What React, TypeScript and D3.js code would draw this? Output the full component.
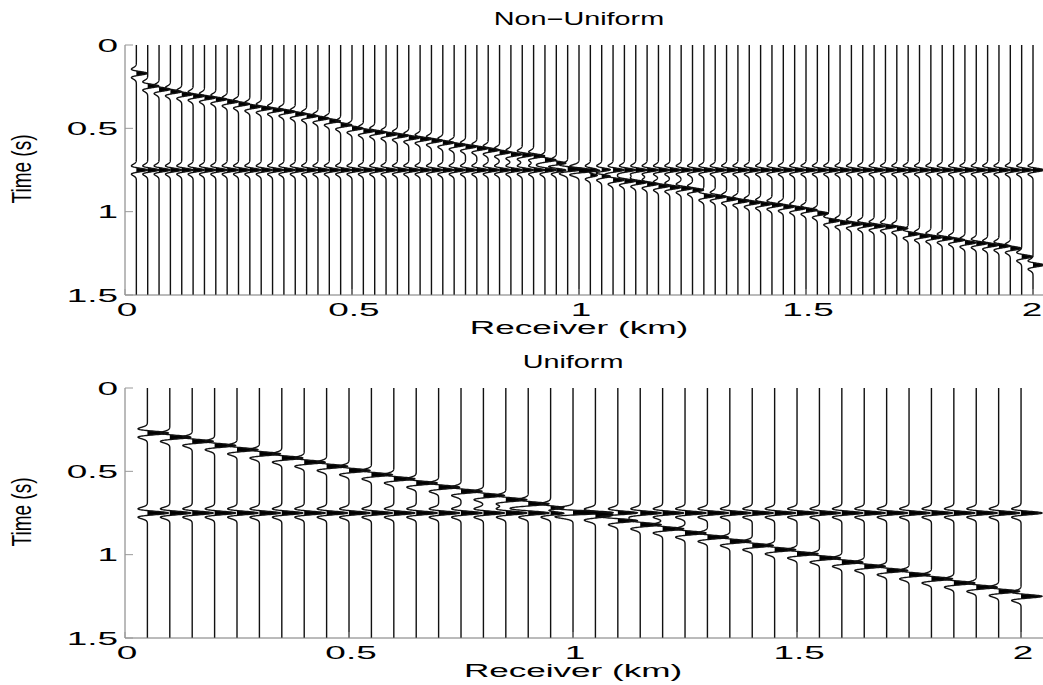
import * as d3 from 'd3';

// receiver positions (km) and event arrival times (s)
const topReceivers = [
  0.025, 0.05, 0.075, 0.1, 0.125, 0.15, 0.175, 0.2, 0.225, 0.25,
  0.275, 0.3, 0.325, 0.35, 0.375, 0.4, 0.425, 0.45, 0.475, 0.5,
  0.525, 0.55, 0.575, 0.6, 0.625, 0.65, 0.675, 0.7, 0.725, 0.75,
  0.775, 0.8, 0.825, 0.85, 0.875, 0.9, 0.925, 0.95, 0.975, 1.0,
  1.025, 1.05, 1.075, 1.1, 1.125, 1.15, 1.175, 1.2, 1.225, 1.25,
  1.275, 1.3, 1.325, 1.35, 1.375, 1.4, 1.425, 1.45, 1.475, 1.5,
  1.525, 1.55, 1.575, 1.6, 1.625, 1.65, 1.675, 1.7, 1.725, 1.75,
  1.775, 1.8, 1.825, 1.85, 1.875, 1.9, 1.925, 1.95, 1.975, 2.0,
];
const topDipTimes = [
  0.17, 0.246, 0.266, 0.28, 0.296, 0.306, 0.316, 0.326, 0.34, 0.354,
  0.37, 0.38, 0.39, 0.4, 0.414, 0.426, 0.44, 0.456, 0.48, 0.5,
  0.516, 0.524, 0.536, 0.544, 0.556, 0.564, 0.574, 0.586, 0.6, 0.61,
  0.62, 0.63, 0.644, 0.656, 0.66, 0.666, 0.69, 0.71, 0.74, 0.756,
  0.78, 0.786, 0.81, 0.816, 0.824, 0.834, 0.846, 0.854, 0.86, 0.87,
  0.906, 0.91, 0.924, 0.936, 0.946, 0.954, 0.96, 0.97, 0.98, 0.99,
  1.01, 1.054, 1.066, 1.074, 1.08, 1.086, 1.09, 1.1, 1.134, 1.146,
  1.154, 1.16, 1.17, 1.186, 1.19, 1.2, 1.206, 1.22, 1.27, 1.32,
];

const bottomReceivers = [
  0.05, 0.1, 0.15, 0.2, 0.25, 0.3, 0.35, 0.4, 0.45, 0.5,
  0.55, 0.6, 0.65, 0.7, 0.75, 0.8, 0.85, 0.9, 0.95, 1.0,
  1.05, 1.1, 1.15, 1.2, 1.25, 1.3, 1.35, 1.4, 1.45, 1.5,
  1.55, 1.6, 1.65, 1.7, 1.75, 1.8, 1.85, 1.9, 1.95, 2.0,
];
const bottomDipTimes = [
  0.27, 0.295, 0.32, 0.345, 0.37, 0.395, 0.42, 0.445, 0.47, 0.495,
  0.52, 0.545, 0.57, 0.595, 0.62, 0.645, 0.67, 0.695, 0.72, 0.745,
  0.77, 0.795, 0.82, 0.845, 0.87, 0.895, 0.92, 0.945, 0.97, 0.995,
  1.02, 1.045, 1.07, 1.095, 1.12, 1.145, 1.17, 1.195, 1.22, 1.25,
];

const flatTime = 0.75;
const xTicks = [0, 0.5, 1, 1.5, 2];
const yTicks = [0, 0.5, 1, 1.5];

const FREQ = 15.5;
const DT = 0.001;
const FONT = '"Liberation Sans", Arial, Helvetica, sans-serif';
const SX = 2.05; // glyphs in the source are stretched horizontally

function ricker(t: number) {
  const a = Math.PI * Math.PI * FREQ * FREQ * t * t;
  return (1 - 2 * a) * Math.exp(-a);
}

type Sample = { t: number; s: number };

function Panel({
  title,
  receivers,
  dips,
  top,
  xMax,
  gain,
}: {
  title: string;
  receivers: number[];
  dips: number[];
  top: number;
  xMax: number;
  gain: number;
}) {
  const x = d3.scaleLinear().domain([0, xMax]).range([125, 1043]);
  const y = d3.scaleLinear().domain([0, 1.5]).range([top, top + 250]);
  const bottom = top + 250;

  const times = d3.range(0, 1.5 + DT / 2, DT);

  const traces = receivers.map((r, i) => {
    const xc = x(r);
    const samples: Sample[] = times.map((t) => ({
      t,
      s: ricker(t - dips[i]) + ricker(t - flatTime),
    }));
    const line = d3
      .line<Sample>()
      .x((d) => xc + gain * d.s)
      .y((d) => y(d.t));
    const area = d3
      .area<Sample>()
      .y((d) => y(d.t))
      .x0(() => xc)
      .x1((d) => xc + gain * Math.max(0, d.s));
    return { key: i, line: line(samples) || '', area: area(samples) || '' };
  });

  return (
    <g>
      <text
        transform={`translate(${x(1)},${top - 20}) scale(1.6,1)`}
        textAnchor="middle"
        fontFamily={FONT}
        fontSize={18}
      >
        {title}
      </text>

      {traces.map((tr) => (
        <g key={tr.key}>
          <path d={tr.area} fill="#000" stroke="none" />
          <path d={tr.line} fill="none" stroke="#111" strokeWidth={1.4} />
        </g>
      ))}

      {/* axes */}
      <line x1={125} x2={125} y1={top} y2={bottom} stroke="#777" strokeWidth={1} />
      <line x1={125} x2={1043} y1={bottom} y2={bottom} stroke="#777" strokeWidth={1} />
      {yTicks.map((v) => (
        <g key={`y${v}`}>
          <line x1={125} x2={133} y1={y(v)} y2={y(v)} stroke="#999" />
          <text
            transform={`translate(118,${y(v) + 6.5}) scale(${SX},1)`}
            textAnchor="end"
            fontFamily={FONT}
            fontSize={18}
          >
            {String(v)}
          </text>
        </g>
      ))}
      {xTicks.map((v) => (
        <g key={`x${v}`}>
          <line x1={x(v)} x2={x(v)} y1={bottom} y2={bottom - 6} stroke="#999" />
          <text
            transform={`translate(${Math.min(x(v) + 2, 1032)},${bottom + 21}) scale(${SX},1)`}
            textAnchor="middle"
            fontFamily={FONT}
            fontSize={18}
          >
            {String(v)}
          </text>
        </g>
      ))}
      <text
        transform={`translate(${x(1)},${bottom + 39}) scale(1.95,1)`}
        textAnchor="middle"
        fontFamily={FONT}
        fontSize={18}
      >
        Receiver (km)
      </text>
      <text
        transform={`translate(31,${top + 124}) scale(1.5,1) rotate(-90)`}
        textAnchor="middle"
        fontFamily={FONT}
        fontSize={19}
      >
        Time (s)
      </text>
    </g>
  );
}

export default function App() {
  return (
    <svg
      width={1043}
      height={685}
      style={{ position: 'absolute', left: 0, top: 0, background: '#fff' }}
    >
      <rect width={1043} height={685} fill="#fff" />
      <Panel
        title="Non−Uniform"
        receivers={topReceivers}
        dips={topDipTimes}
        top={45}
        xMax={2.022}
        gain={11}
      />
      <Panel
        title="Uniform"
        receivers={bottomReceivers}
        dips={bottomDipTimes}
        top={388}
        xMax={2.049}
        gain={21}
      />
    </svg>
  );
}
